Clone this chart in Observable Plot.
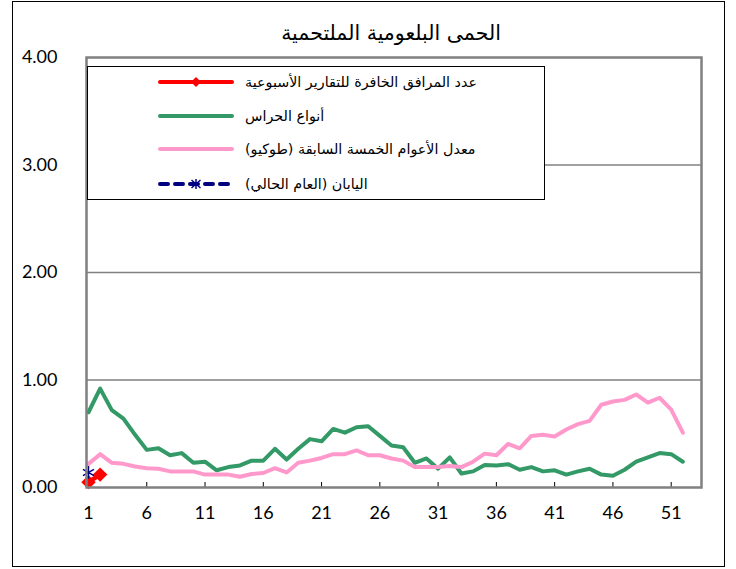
<!DOCTYPE html>
<html><head><meta charset="utf-8">
<script src="https://cdn.jsdelivr.net/npm/d3@7"></script>
<script src="https://cdn.jsdelivr.net/npm/@observablehq/plot@0.6"></script>
<style>
body{margin:0;background:#fff;}
#wrap{position:relative;width:736px;height:569px;overflow:hidden;background:#fff;}
#border{position:absolute;left:12px;top:1px;width:713px;height:566px;border:1.5px solid #000;box-sizing:border-box;}
#title{position:absolute;left:86px;width:610px;top:20px;text-align:center;font-family:"DejaVu Sans",sans-serif;font-size:20.5px;line-height:26px;direction:rtl;}
#chart{position:absolute;left:0;top:0;}
#legend{position:absolute;left:87px;top:66px;width:458px;height:134px;border:1px solid #000;background:#fff;box-sizing:border-box;font-family:"DejaVu Sans",sans-serif;font-size:14.3px;}
.row{position:absolute;left:0;width:100%;height:20px;}
.row svg{position:absolute;left:70px;top:4px;}
.row span{position:absolute;left:157px;top:0px;direction:rtl;white-space:nowrap;line-height:20px;}
</style></head>
<body>
<div id="wrap">
  <div id="chart"></div>
  <div id="border"></div>
  <div id="title"></div>
  <div id="legend"></div>
</div>
<script>
const titleText = "الحمى البلعومية الملتحمية";
const seriesNames = ["عدد المرافق الخافرة للتقارير الأسبوعية", "أنواع الحراس", "معدل الأعوام الخمسة السابقة (طوكيو)", "اليابان (العام الحالي)"];
const seriesColors = ["#ff0000", "#339966", "#ff99cc", "#000080"];

const weeks = [1,2,3,4,5,6,7,8,9,10,11,12,13,14,15,16,17,18,19,20,21,22,23,24,25,26,27,28,29,30,31,32,33,34,35,36,37,38,39,40,41,42,43,44,45,46,47,48,49,50,51,52];
const guardValues = [0.70,0.92,0.72,0.64,0.49,0.35,0.365,0.30,0.32,0.23,0.24,0.16,0.19,0.205,0.25,0.25,0.36,0.26,0.36,0.45,0.43,0.545,0.51,0.56,0.57,0.48,0.39,0.375,0.23,0.27,0.175,0.28,0.13,0.15,0.21,0.205,0.217,0.165,0.19,0.15,0.16,0.12,0.15,0.175,0.12,0.11,0.165,0.24,0.28,0.32,0.31,0.24];
const avg5Values = [0.22,0.31,0.23,0.22,0.195,0.18,0.175,0.15,0.15,0.15,0.12,0.12,0.12,0.10,0.125,0.135,0.18,0.14,0.23,0.25,0.275,0.31,0.31,0.345,0.30,0.30,0.27,0.25,0.19,0.19,0.19,0.20,0.19,0.24,0.315,0.30,0.405,0.365,0.48,0.49,0.475,0.54,0.59,0.62,0.77,0.80,0.815,0.865,0.79,0.835,0.725,0.51];
const reportWeeks = [1,2];
const reportValues = [0.05,0.12];
const japanWeeks = [1];
const japanValues = [0.14];
const xTicks = [1,6,11,16,21,26,31,36,41,46,51];
const yTicks = [0,1,2,3,4];
const gridValues = [1,2,3];

const guard = weeks.map((w,i)=>({w, v: guardValues[i]}));
const avg5 = weeks.map((w,i)=>({w, v: avg5Values[i]}));
const report = reportWeeks.map((w,i)=>({w, v: reportValues[i]}));
const japan = japanWeeks.map((w,i)=>({w, v: japanValues[i]}));

document.getElementById("title").textContent = titleText;

const chart = Plot.plot({
  width: 736, height: 569,
  marginLeft: 86, marginRight: 35, marginTop: 57, marginBottom: 82,
  x: {domain: [0.83, 53.6]},
  y: {domain: [0, 4]},
  style: {fontFamily: "Lato, sans-serif", fontSize: "18px", color: "#000", background: "transparent"},
  marks: [
    Plot.ruleY(gridValues, {stroke: "#808080", strokeWidth: 1.5}),
    Plot.axisY(yTicks, {tickSize: 0, tickPadding: 29, tickFormat: d3.format(".2f"), label: null, fontSize: 18}),
    Plot.axisX(xTicks, {tickSize: 0, tickPadding: 19, label: null, fontSize: 18}),
    Plot.tickX(xTicks, {x: d => d, insetTop: 425, stroke: "#000", strokeWidth: 1}),
    Plot.line(guard, {x: "w", y: "v", stroke: seriesColors[1], strokeWidth: 4}),
    Plot.line(avg5, {x: "w", y: "v", stroke: seriesColors[2], strokeWidth: 4}),
    Plot.line(report, {x: "w", y: "v", stroke: seriesColors[0], strokeWidth: 4.5}),
    Plot.dot(report, {x: "w", y: "v", symbol: "diamond2", fill: seriesColors[0], r: 6.5}),
    Plot.dot(japan, {x: "w", y: "v", symbol: "asterisk", stroke: seriesColors[3], strokeWidth: 1.5, r: 6}),
    Plot.frame({stroke: "#808080", strokeWidth: 2.5})
  ]
});
document.getElementById("chart").appendChild(chart);

// legend
const legend = document.getElementById("legend");
const rowTops = [5, 39, 72, 107];
const symbols = [
  `<svg width="76" height="12"><line x1="2" y1="6" x2="74" y2="6" stroke="${seriesColors[0]}" stroke-width="4" stroke-linecap="round"/><path d="M38,1 L43,6 L38,11 L33,6 Z" fill="${seriesColors[0]}"/></svg>`,
  `<svg width="76" height="12"><line x1="2" y1="6" x2="74" y2="6" stroke="${seriesColors[1]}" stroke-width="4" stroke-linecap="round"/></svg>`,
  `<svg width="76" height="12"><line x1="2" y1="6" x2="74" y2="6" stroke="${seriesColors[2]}" stroke-width="4" stroke-linecap="round"/></svg>`,
  `<svg width="76" height="12"><line x1="2" y1="6" x2="74" y2="6" stroke="${seriesColors[3]}" stroke-width="4" stroke-linecap="round" stroke-dasharray="8,7"/><g stroke="${seriesColors[3]}" stroke-width="1.5"><line x1="38" y1="1" x2="38" y2="11"/><line x1="33.5" y1="2" x2="42.5" y2="10"/><line x1="33.5" y1="10" x2="42.5" y2="2"/></g></svg>`
];
seriesNames.forEach((name, i) => {
  const row = document.createElement("div");
  row.className = "row";
  row.style.top = rowTops[i] + "px";
  row.innerHTML = symbols[i];
  const s = document.createElement("span");
  s.textContent = name;
  row.appendChild(s);
  legend.appendChild(row);
});
</script>
</body></html>
